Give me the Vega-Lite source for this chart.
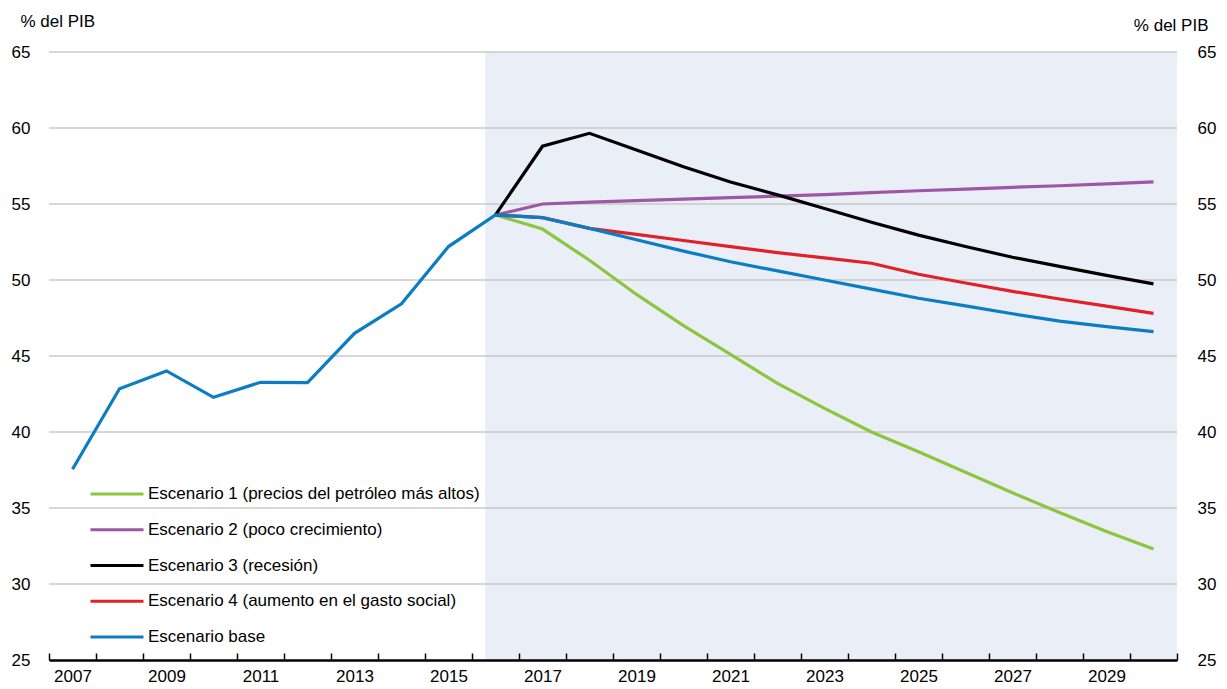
{
  "$schema": "https://vega.github.io/schema/vega-lite/v6.json",
  "width": 1128,
  "height": 608,
  "autosize": {"type": "none"},
  "padding": {"left": 49, "top": 52, "right": 50, "bottom": 29},
  "config": {"view": {"stroke": null}, "font": "Liberation Sans"},
  "datasets": {
    "shade": [{"start": 2015.78, "end": 2030.5, "lo": 25, "hi": 65}],
    "grid": [{"v": 30}, {"v": 35}, {"v": 40}, {"v": 45}, {"v": 50}, {"v": 55}, {"v": 60}, {"v": 65}],
    "series": [
      {"serie": "Escenario 1 (precios del petróleo más altos)", "year": 2016, "value": 54.28},
      {"serie": "Escenario 1 (precios del petróleo más altos)", "year": 2017, "value": 53.35},
      {"serie": "Escenario 1 (precios del petróleo más altos)", "year": 2018, "value": 51.3},
      {"serie": "Escenario 1 (precios del petróleo más altos)", "year": 2019, "value": 49.05},
      {"serie": "Escenario 1 (precios del petróleo más altos)", "year": 2020, "value": 47.0},
      {"serie": "Escenario 1 (precios del petróleo más altos)", "year": 2021, "value": 45.1},
      {"serie": "Escenario 1 (precios del petróleo más altos)", "year": 2022, "value": 43.2},
      {"serie": "Escenario 1 (precios del petróleo más altos)", "year": 2023, "value": 41.55},
      {"serie": "Escenario 1 (precios del petróleo más altos)", "year": 2024, "value": 40.0},
      {"serie": "Escenario 1 (precios del petróleo más altos)", "year": 2025, "value": 38.7},
      {"serie": "Escenario 1 (precios del petróleo más altos)", "year": 2026, "value": 37.35},
      {"serie": "Escenario 1 (precios del petróleo más altos)", "year": 2027, "value": 36.0},
      {"serie": "Escenario 1 (precios del petróleo más altos)", "year": 2028, "value": 34.7},
      {"serie": "Escenario 1 (precios del petróleo más altos)", "year": 2029, "value": 33.45},
      {"serie": "Escenario 1 (precios del petróleo más altos)", "year": 2030, "value": 32.3},
      {"serie": "Escenario 2 (poco crecimiento)", "year": 2016, "value": 54.28},
      {"serie": "Escenario 2 (poco crecimiento)", "year": 2017, "value": 55.0},
      {"serie": "Escenario 2 (poco crecimiento)", "year": 2018, "value": 55.12},
      {"serie": "Escenario 2 (poco crecimiento)", "year": 2019, "value": 55.22},
      {"serie": "Escenario 2 (poco crecimiento)", "year": 2020, "value": 55.32},
      {"serie": "Escenario 2 (poco crecimiento)", "year": 2021, "value": 55.42},
      {"serie": "Escenario 2 (poco crecimiento)", "year": 2022, "value": 55.52},
      {"serie": "Escenario 2 (poco crecimiento)", "year": 2023, "value": 55.62},
      {"serie": "Escenario 2 (poco crecimiento)", "year": 2024, "value": 55.75},
      {"serie": "Escenario 2 (poco crecimiento)", "year": 2025, "value": 55.87},
      {"serie": "Escenario 2 (poco crecimiento)", "year": 2026, "value": 55.98},
      {"serie": "Escenario 2 (poco crecimiento)", "year": 2027, "value": 56.1},
      {"serie": "Escenario 2 (poco crecimiento)", "year": 2028, "value": 56.2},
      {"serie": "Escenario 2 (poco crecimiento)", "year": 2029, "value": 56.32},
      {"serie": "Escenario 2 (poco crecimiento)", "year": 2030, "value": 56.45},
      {"serie": "Escenario 4 (aumento en el gasto social)", "year": 2016, "value": 54.28},
      {"serie": "Escenario 4 (aumento en el gasto social)", "year": 2017, "value": 54.1},
      {"serie": "Escenario 4 (aumento en el gasto social)", "year": 2018, "value": 53.4},
      {"serie": "Escenario 4 (aumento en el gasto social)", "year": 2019, "value": 53.0},
      {"serie": "Escenario 4 (aumento en el gasto social)", "year": 2020, "value": 52.6},
      {"serie": "Escenario 4 (aumento en el gasto social)", "year": 2021, "value": 52.2},
      {"serie": "Escenario 4 (aumento en el gasto social)", "year": 2022, "value": 51.8},
      {"serie": "Escenario 4 (aumento en el gasto social)", "year": 2023, "value": 51.45},
      {"serie": "Escenario 4 (aumento en el gasto social)", "year": 2024, "value": 51.1},
      {"serie": "Escenario 4 (aumento en el gasto social)", "year": 2025, "value": 50.38},
      {"serie": "Escenario 4 (aumento en el gasto social)", "year": 2026, "value": 49.8},
      {"serie": "Escenario 4 (aumento en el gasto social)", "year": 2027, "value": 49.25},
      {"serie": "Escenario 4 (aumento en el gasto social)", "year": 2028, "value": 48.75},
      {"serie": "Escenario 4 (aumento en el gasto social)", "year": 2029, "value": 48.28},
      {"serie": "Escenario 4 (aumento en el gasto social)", "year": 2030, "value": 47.8},
      {"serie": "Escenario 3 (recesión)", "year": 2016, "value": 54.28},
      {"serie": "Escenario 3 (recesión)", "year": 2017, "value": 58.8},
      {"serie": "Escenario 3 (recesión)", "year": 2018, "value": 59.65},
      {"serie": "Escenario 3 (recesión)", "year": 2019, "value": 58.55},
      {"serie": "Escenario 3 (recesión)", "year": 2020, "value": 57.45},
      {"serie": "Escenario 3 (recesión)", "year": 2021, "value": 56.45},
      {"serie": "Escenario 3 (recesión)", "year": 2022, "value": 55.6},
      {"serie": "Escenario 3 (recesión)", "year": 2023, "value": 54.7},
      {"serie": "Escenario 3 (recesión)", "year": 2024, "value": 53.8},
      {"serie": "Escenario 3 (recesión)", "year": 2025, "value": 52.95},
      {"serie": "Escenario 3 (recesión)", "year": 2026, "value": 52.2},
      {"serie": "Escenario 3 (recesión)", "year": 2027, "value": 51.5},
      {"serie": "Escenario 3 (recesión)", "year": 2028, "value": 50.9},
      {"serie": "Escenario 3 (recesión)", "year": 2029, "value": 50.3},
      {"serie": "Escenario 3 (recesión)", "year": 2030, "value": 49.75},
      {"serie": "Escenario base", "year": 2007, "value": 37.55},
      {"serie": "Escenario base", "year": 2008, "value": 42.85},
      {"serie": "Escenario base", "year": 2009, "value": 44.02},
      {"serie": "Escenario base", "year": 2010, "value": 42.28},
      {"serie": "Escenario base", "year": 2011, "value": 43.27},
      {"serie": "Escenario base", "year": 2012, "value": 43.25},
      {"serie": "Escenario base", "year": 2013, "value": 46.49},
      {"serie": "Escenario base", "year": 2014, "value": 48.43},
      {"serie": "Escenario base", "year": 2015, "value": 52.2},
      {"serie": "Escenario base", "year": 2016, "value": 54.28},
      {"serie": "Escenario base", "year": 2017, "value": 54.1},
      {"serie": "Escenario base", "year": 2018, "value": 53.4},
      {"serie": "Escenario base", "year": 2019, "value": 52.65},
      {"serie": "Escenario base", "year": 2020, "value": 51.9},
      {"serie": "Escenario base", "year": 2021, "value": 51.2},
      {"serie": "Escenario base", "year": 2022, "value": 50.6},
      {"serie": "Escenario base", "year": 2023, "value": 50.0},
      {"serie": "Escenario base", "year": 2024, "value": 49.4},
      {"serie": "Escenario base", "year": 2025, "value": 48.8},
      {"serie": "Escenario base", "year": 2026, "value": 48.3},
      {"serie": "Escenario base", "year": 2027, "value": 47.78},
      {"serie": "Escenario base", "year": 2028, "value": 47.3},
      {"serie": "Escenario base", "year": 2029, "value": 46.93},
      {"serie": "Escenario base", "year": 2030, "value": 46.6}
    ]
  },
  "layer": [
    {
      "data": {"name": "shade"},
      "mark": {"type": "rect", "color": "#eaeef6"},
      "encoding": {
        "x": {
          "field": "start", "type": "quantitative",
          "scale": {"domain": [2006.5, 2030.5], "nice": false, "zero": false},
          "axis": {
            "orient": "bottom", "zindex": 1,
            "values": [2006.5, 2007.5, 2008.5, 2009.5, 2010.5, 2011.5, 2012.5, 2013.5, 2014.5, 2015.5, 2016.5, 2017.5, 2018.5, 2019.5, 2020.5, 2021.5, 2022.5, 2023.5, 2024.5, 2025.5, 2026.5, 2027.5, 2028.5, 2029.5, 2030.5],
            "labelExpr": "(datum.value % 2 == 0.5 && datum.value < 2030) ? format(datum.value + 0.5, 'd') : ''",
            "labelOffset": 23.5, "labelFlush": false, "labelOverlap": false,
            "tickSize": -7, "tickColor": "#000", "tickWidth": 1.5,
            "domainColor": "#000", "domainWidth": 2.3,
            "labelFontSize": 17, "labelColor": "#000", "labelPadding": 15,
            "grid": false, "title": null
          }
        },
        "x2": {"field": "end"},
        "y": {"field": "lo", "type": "quantitative", "scale": {"domain": [25, 65], "nice": false, "zero": false}, "axis": null},
        "y2": {"field": "hi"}
      }
    },
    {
      "data": {"name": "grid"},
      "mark": {"type": "rule", "color": "#c8c8c8", "strokeWidth": 1.3},
      "encoding": {
        "y": {
          "field": "v", "type": "quantitative",
          "axis": {
            "orient": "right",
            "values": [25, 30, 35, 40, 45, 50, 55, 60, 65],
            "domain": false, "ticks": false, "tickSize": 0, "grid": false,
            "labelPadding": 20, "labelFontSize": 17, "labelColor": "#000",
            "title": "% del PIB", "titleAngle": 0, "titleX": 31, "titleY": -21.5,
            "titleAlign": "right", "titleBaseline": "alphabetic",
            "titleFontSize": 17, "titleFontWeight": "normal", "titleColor": "#000"
          }
        }
      }
    },
    {
      "data": {"name": "series"},
      "mark": {"type": "line", "strokeWidth": 3.2},
      "encoding": {
        "x": {
          "field": "year", "type": "quantitative",
          "axis": {
            "orient": "bottom", "zindex": 1,
            "values": [2006.5, 2007.5, 2008.5, 2009.5, 2010.5, 2011.5, 2012.5, 2013.5, 2014.5, 2015.5, 2016.5, 2017.5, 2018.5, 2019.5, 2020.5, 2021.5, 2022.5, 2023.5, 2024.5, 2025.5, 2026.5, 2027.5, 2028.5, 2029.5, 2030.5],
            "labelExpr": "(datum.value % 2 == 0.5 && datum.value < 2030) ? format(datum.value + 0.5, 'd') : ''",
            "labelOffset": 23.5, "labelFlush": false, "labelOverlap": false,
            "tickSize": -7, "tickColor": "#000", "tickWidth": 1.5,
            "domainColor": "#000", "domainWidth": 2.3,
            "labelFontSize": 17, "labelColor": "#000", "labelPadding": 15,
            "grid": false, "title": null
          }
        },
        "y": {
          "field": "value", "type": "quantitative",
          "axis": {
            "orient": "left",
            "values": [25, 30, 35, 40, 45, 50, 55, 60, 65],
            "domain": false, "ticks": false, "tickSize": 0, "grid": false,
            "labelPadding": 19, "labelFontSize": 17, "labelColor": "#000",
            "title": "% del PIB", "titleAngle": 0, "titleX": -29, "titleY": -26,
            "titleAlign": "left", "titleBaseline": "alphabetic",
            "titleFontSize": 17, "titleFontWeight": "normal", "titleColor": "#000"
          }
        },
        "color": {
          "field": "serie", "type": "nominal",
          "scale": {
            "domain": ["Escenario 1 (precios del petróleo más altos)", "Escenario 2 (poco crecimiento)", "Escenario 3 (recesión)", "Escenario 4 (aumento en el gasto social)", "Escenario base"],
            "range": ["#8cc63f", "#9e57a5", "#000000", "#e1202c", "#0b7dc3"]
          },
          "legend": {
            "orient": "none", "legendX": 40, "legendY": 433, "title": null,
            "symbolType": "stroke", "symbolSize": 2809, "symbolStrokeWidth": 3,
            "clipHeight": 18, "rowPadding": 17.75, "padding": 0,
            "labelFontSize": 17, "labelOffset": 3, "labelColor": "#000", "labelLimit": 0
          }
        }
      }
    }
  ],
  "resolve": {"axis": {"y": "independent"}}
}
